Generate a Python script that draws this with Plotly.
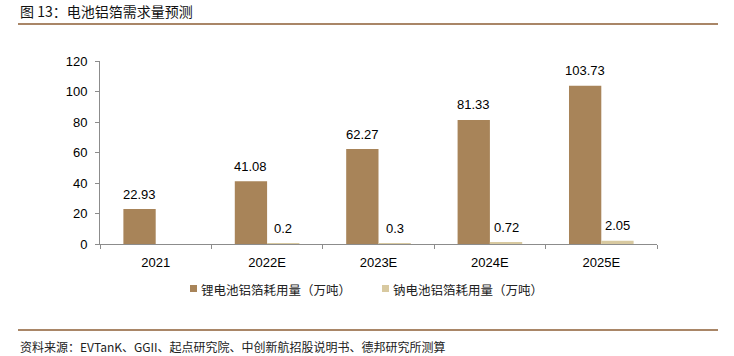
import plotly.graph_objects as go

categories = ["2021", "2022E", "2023E", "2024E", "2025E"]
li_values = [22.93, 41.08, 62.27, 81.33, 103.73]
na_values = [None, 0.2, 0.3, 0.72, 2.05]
li_name = "锂电池铝箔耗用量（万吨）"
na_name = "钠电池铝箔耗用量（万吨）"
title_text = "图 13：电池铝箔需求量预测"
source_text = "资料来源：EVTanK、GGII、起点研究院、中创新航招股说明书、德邦研究所测算"

li_color = "#A88459"
na_color = "#D8C9A0"
num_font = "Liberation Sans, Arial, sans-serif"
cjk_font = "Noto Sans CJK SC, Liberation Sans, sans-serif"

W, H = 734, 356
ml, mr, mt, mb = 100, 77, 61, 112
pw, ph = W - ml - mr, H - mt - mb
bargap = 0.42
bar_px = pw / len(categories) * (1 - bargap) / 2


def px(x):
    return (x - ml) / pw


def py(y):
    return (H - mb - y) / ph


fig = go.Figure()
fig.add_trace(go.Bar(x=categories, y=li_values, name=li_name,
                     marker=dict(color=li_color, line=dict(width=0))))
fig.add_trace(go.Bar(x=categories, y=na_values, name=na_name,
                     marker=dict(color=na_color, line=dict(width=0))))

# value labels (x given as category index on the category axis)
for i, v in enumerate(li_values):
    fig.add_annotation(x=i, y=v, xref="x", yref="y", text=f"{v:.2f}", showarrow=False,
                       xshift=-bar_px / 2, yshift=15, yanchor="middle",
                       font=dict(family=num_font, size=13, color="#000"))
for i, v in enumerate(na_values):
    if v is None:
        continue
    fig.add_annotation(x=i, y=v, xref="x", yref="y", text=f"{v:g}", showarrow=False,
                       xshift=bar_px / 2, yshift=15, yanchor="middle",
                       font=dict(family=num_font, size=13, color="#000"))

fig.update_layout(
    width=W, height=H,
    margin=dict(l=ml, r=mr, t=mt, b=mb, pad=0),
    paper_bgcolor="white", plot_bgcolor="white",
    barmode="group", bargap=bargap, bargroupgap=0,
    showlegend=False,
    xaxis=dict(type="category", categoryorder="array", categoryarray=categories,
               range=[-0.5, len(categories) - 0.5],
               showline=True, linecolor="#8c8c8c", linewidth=1,
               ticks="outside", tickson="boundaries", ticklen=4, tickcolor="#8c8c8c",
               tickfont=dict(family=num_font, size=13, color="#000"), tickangle=0,
               ticklabelstandoff=6,
               showgrid=False, zeroline=False, fixedrange=True),
    yaxis=dict(range=[0, 120], dtick=20, showline=True, linecolor="#8c8c8c", linewidth=1,
               ticks="outside", ticklen=4, tickcolor="#8c8c8c",
               tickfont=dict(family=num_font, size=13, color="#000"),
               ticklabelstandoff=5,
               showgrid=False, zeroline=False, fixedrange=True),
    font=dict(family=num_font),
)

# manual legend
for (sx, name, col) in [(190, li_name, li_color), (382, na_name, na_color)]:
    fig.add_shape(type="rect", xref="paper", yref="paper",
                  x0=px(sx), x1=px(sx + 7), y0=py(292), y1=py(285),
                  fillcolor=col, line=dict(width=0))
    fig.add_annotation(xref="paper", yref="paper", x=px(sx + 9), y=py(289),
                       xanchor="left", yanchor="middle", text=name, showarrow=False,
                       font=dict(family=cjk_font, size=12.5, color="#222"))

fig.add_shape(type="line", xref="paper", yref="paper", x0=px(18), x1=px(718), y0=py(24), y1=py(24),
              line=dict(color="#A98667", width=2))
fig.add_shape(type="line", xref="paper", yref="paper", x0=px(18), x1=px(718), y0=py(330), y1=py(330),
              line=dict(color="#A98667", width=2))
fig.add_annotation(xref="paper", yref="paper", x=px(18), y=py(11), xanchor="left", yanchor="middle",
                   text=title_text, showarrow=False,
                   font=dict(family=cjk_font, size=14, color="#111"))
fig.add_annotation(xref="paper", yref="paper", x=px(18), y=py(346), xanchor="left", yanchor="middle",
                   text=source_text, showarrow=False,
                   font=dict(family=cjk_font, size=12, color="#222"))

fig.write_html("out.html", config={"displayModeBar": False},
               post_script="document.body.style.margin='0';")
